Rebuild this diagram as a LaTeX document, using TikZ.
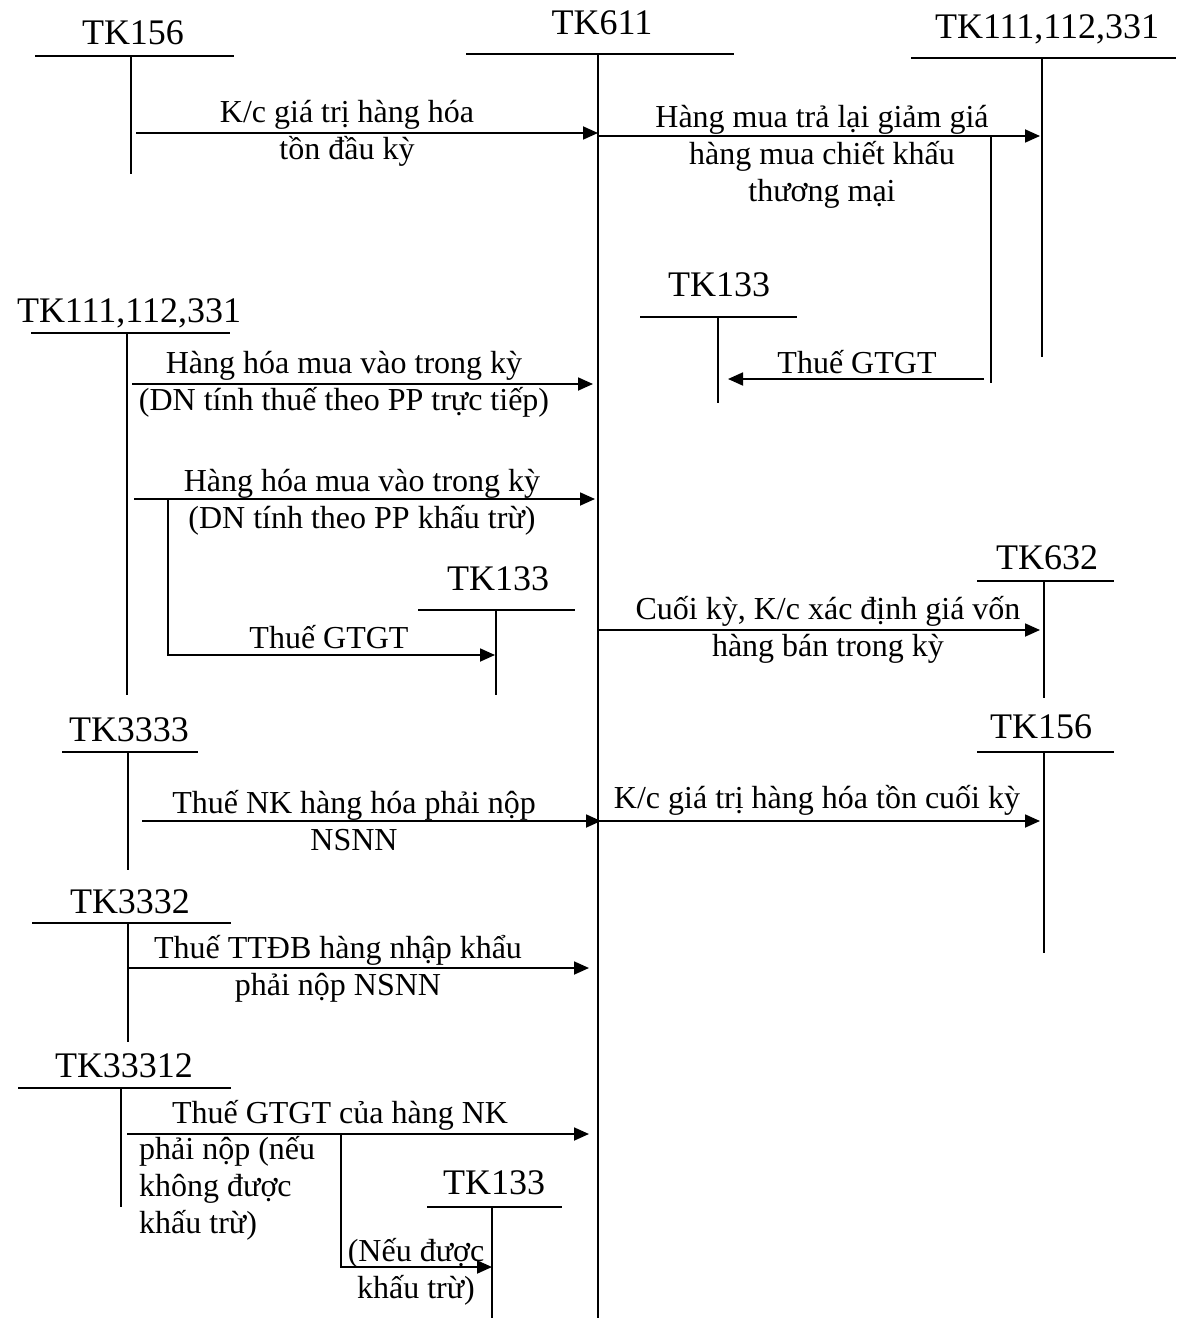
\documentclass[tikz,border=0pt]{standalone}
\usepackage{fontspec}
\setmainfont{Liberation Serif}
\usetikzlibrary{arrows.meta}
\tikzset{
  ln/.style={line width=1.8pt},
  arr/.style={ln, -{Triangle[length=15pt,width=13pt]}},
  acct/.style={inner sep=0pt, font=\fontsize{36}{40}\selectfont},
  lbl/.style={inner sep=0pt, align=center, font=\fontsize{32}{37}\selectfont},
}
% T-account: name, title, title x, title baseline, bar left, bar right, bar y, stem x, stem bottom
\newcommand{\tacct}[9]{%
  \node[acct, anchor=base] (#1) at (#3,#4) {#2};
  \coordinate (#1-l) at (#5,#7);
  \coordinate (#1-r) at (#6,#7);
  \coordinate (#1-t) at (#8,#7);
  \coordinate (#1-b) at (#8,#9);
  \draw[ln] (#1-l) -- (#1-r);
  \draw[ln] (#1-t) -- (#1-b);
}
\begin{document}
\begin{tikzpicture}[x=1pt,y=-1pt]
\useasboundingbox (0,0) rectangle (1176,1321);

% accounts
\tacct{tkA}{TK156}{133}{45}{35}{234}{56}{131}{174}
\tacct{tkM}{TK611}{602}{35}{466}{734}{54}{598}{1318}
\tacct{tkB}{TK111,112,331}{1047}{39}{911}{1176}{58}{1042}{357}
\tacct{tkC}{TK133}{719}{297}{640}{797}{317}{718}{403}
\tacct{tkD}{TK111,112,331}{129}{323}{31}{230}{333}{127}{695}
\tacct{tkE}{TK133}{498}{590}{418}{575}{610}{496}{695}
\tacct{tkF}{TK632}{1047}{569}{977}{1114}{581}{1044}{698}
\tacct{tkG}{TK156}{1041}{738}{977}{1114}{752}{1044}{953}
\tacct{tkH}{TK3333}{129}{741}{62}{198}{752}{128}{870}
\tacct{tkI}{TK3332}{130}{913}{32}{231}{923}{128}{1042}
\tacct{tkJ}{TK33312}{124}{1077}{18}{231}{1088}{121}{1207}
\tacct{tkK}{TK133}{494}{1194}{427}{562}{1207}{492}{1318}

% (multi-line labels are placed by the baseline of their last line)

% opening stock into TK611
\coordinate (a1s) at (136,133);
\coordinate (a1e) at (598,133);
\draw[arr] (a1s) -- (a1e);
\node[lbl, anchor=base] (l1) at (347,160) {K/c giá trị hàng hóa\\tồn đầu kỳ};

% returns and discounts
\coordinate (a2s) at (598,136);
\coordinate (a2e) at (1040,136);
\draw[arr] (a2s) -- (a2e);
\node[lbl, anchor=base] (l2) at (822,202) {Hàng mua trả lại giảm giá\\hàng mua chiết khấu\\thương mại};
\coordinate (b2s) at (991,136);
\coordinate (b2b) at (991,383);
\draw[ln] (b2s) -- (b2b);
\coordinate (b2f) at (984,379);
\coordinate (b2e) at (728,379);
\draw[arr] (b2f) -- (b2e);
\node[lbl, anchor=base] (lb2) at (857,373) {Thuế GTGT};

% purchases, direct method
\coordinate (a3s) at (132,384);
\coordinate (a3e) at (593,384);
\draw[arr] (a3s) -- (a3e);
\node[lbl, anchor=base] (l3) at (344,410) {Hàng hóa mua vào trong kỳ\\(DN tính thuế theo PP trực tiếp)};

% purchases, deduction method
\coordinate (a4s) at (134,499);
\coordinate (a4e) at (595,499);
\draw[arr] (a4s) -- (a4e);
\node[lbl, anchor=base] (l4) at (362,528) {Hàng hóa mua vào trong kỳ\\(DN tính theo PP khấu trừ)};
\coordinate (b4s) at (168,499);
\coordinate (b4e) at (495,655);
\draw[arr] (b4s) |- (b4e);
\node[lbl, anchor=base] (lb4) at (329,648) {Thuế GTGT};

% cost of goods sold
\coordinate (a5s) at (598,630);
\coordinate (a5e) at (1040,630);
\draw[arr] (a5s) -- (a5e);
\node[lbl, anchor=base] (l5) at (828,656) {Cuối kỳ, K/c xác định giá vốn\\hàng bán trong kỳ};

% closing stock
\coordinate (a6s) at (598,821);
\coordinate (a6e) at (1040,821);
\draw[arr] (a6s) -- (a6e);
\node[lbl, anchor=base] (l6) at (817,808) {K/c giá trị hàng hóa tồn cuối kỳ};

% import duty
\coordinate (a7s) at (142,821);
\coordinate (a7e) at (601,821);
\draw[arr] (a7s) -- (a7e);
\node[lbl, anchor=base] (l7) at (354,850) {Thuế NK hàng hóa phải nộp\\NSNN};

% special consumption tax
\coordinate (a8s) at (127,968);
\coordinate (a8e) at (589,968);
\draw[arr] (a8s) -- (a8e);
\node[lbl, anchor=base] (l8) at (338,995) {Thuế TTĐB hàng nhập khẩu\\phải nộp NSNN};

% VAT on imports
\coordinate (a9s) at (127,1134);
\coordinate (a9e) at (589,1134);
\draw[arr] (a9s) -- (a9e);
\node[lbl, anchor=base] (l9) at (340,1123) {Thuế GTGT của hàng NK};
\node[lbl, align=left, anchor=base west] (l9b) at (139,1233) {phải nộp (nếu\\không được\\khấu trừ)};
\coordinate (b9s) at (341,1134);
\coordinate (b9e) at (492,1267);
\draw[arr] (b9s) |- (b9e);
\node[lbl, anchor=base] (lb9) at (416,1298) {(Nếu được\\khấu trừ)};

\end{tikzpicture}
\end{document}
